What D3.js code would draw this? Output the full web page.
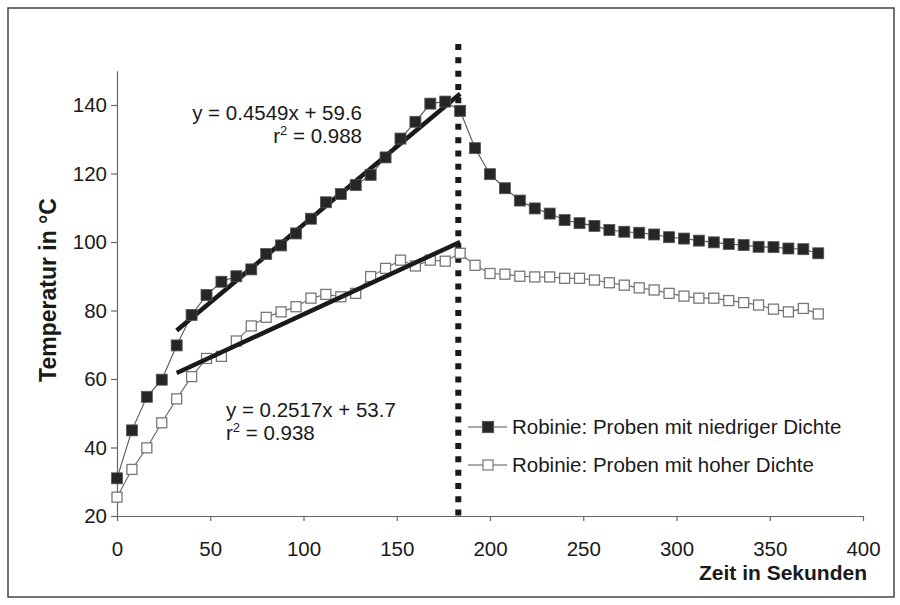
<!DOCTYPE html>
<html>
<head>
<meta charset="utf-8">
<script src="https://cdn.jsdelivr.net/npm/d3@7"></script>
<style>
  body { margin: 0; background: #fff; }
  svg { font-family: "Liberation Sans", Arial, Helvetica, sans-serif; }
</style>
</head>
<body>
<svg width="900" height="605"></svg>
<script>
// time points in seconds (one reading every 8 s)
const times = [0, 8, 16, 24, 32, 40, 48, 56, 64, 72, 80, 88, 96, 104, 112, 120,
  128, 136, 144, 152, 160, 168, 176, 184, 192, 200, 208, 216, 224, 232, 240, 248,
  256, 264, 272, 280, 288, 296, 304, 312, 320, 328, 336, 344, 352, 360, 368, 376];

// low density samples (filled squares)
const lowDensity = [31.0, 45.0, 54.8, 59.8, 69.8, 78.7, 84.5, 88.4, 90.0, 92.0, 96.5, 99.0,
  102.5, 106.8, 111.6, 114.0, 116.6, 119.6, 124.7, 130.2, 135.1, 140.4, 141.0, 138.3,
  127.4, 119.8, 115.7, 112.1, 109.8, 108.3, 106.4, 105.5, 104.7, 103.5, 103.0, 102.7,
  102.2, 101.4, 101.0, 100.4, 99.9, 99.4, 99.1, 98.6, 98.5, 98.1, 97.9, 96.7];

// high density samples (open squares)
const highDensity = [25.5, 33.6, 39.9, 47.2, 54.2, 60.7, 66.0, 66.6, 71.1, 75.5, 78.0, 79.6,
  81.1, 83.6, 84.7, 84.0, 85.0, 89.9, 92.3, 94.7, 93.0, 94.7, 94.4, 96.7,
  93.2, 90.8, 90.6, 90.0, 89.8, 89.8, 89.4, 89.4, 88.9, 88.1, 87.4, 86.6,
  86.0, 85.0, 84.2, 83.6, 83.6, 82.9, 82.3, 81.6, 80.4, 79.6, 80.6, 79.0];

// linear trends fitted over the heating phase
const trendLow = { slope: 0.4549, intercept: 59.6, from: 32, to: 184 };
const trendHigh = { slope: 0.2517, intercept: 53.7, from: 32, to: 184 };

const legendLabels = ["Robinie: Proben mit niedriger Dichte", "Robinie: Proben mit hoher Dichte"];
const xTicks = [0, 50, 100, 150, 200, 250, 300, 350, 400];
const yTicks = [20, 40, 60, 80, 100, 120, 140];
const markerTime = 183;

const svg = d3.select("svg");

// outer frame
svg.append("rect")
  .attr("x", 8).attr("y", 8)
  .attr("width", 886).attr("height", 589)
  .attr("fill", "none")
  .attr("stroke", "#444")
  .attr("stroke-width", 1.5);

const x = d3.scaleLinear().domain([0, 400]).range([117, 863]);
const y = d3.scaleLinear().domain([20, 150]).range([516, 70.75]);

// x-axis
const xAxis = svg.append("g")
  .attr("transform", `translate(0, ${y(20)})`)
  .call(d3.axisBottom(x).tickValues(xTicks).tickSize(5).tickPadding(20).tickSizeOuter(0));

// y-axis
const yAxis = svg.append("g")
  .attr("transform", `translate(${x(0)}, 0)`)
  .call(d3.axisLeft(y).tickValues(yTicks).tickSize(6).tickPadding(4).tickSizeOuter(0));

[xAxis, yAxis].forEach(a => {
  a.select(".domain").attr("stroke", "#666").attr("stroke-width", 1.2);
  a.selectAll(".tick line").attr("stroke", "#666").attr("stroke-width", 1.2);
  a.selectAll(".tick text")
    .attr("fill", "#1a1a1a")
    .attr("font-size", "20.5px")
    .attr("font-family", "Liberation Sans, Arial, sans-serif");
});

// axis titles
svg.append("text")
  .attr("transform", "rotate(-90)")
  .attr("x", -290)
  .attr("y", 56)
  .attr("text-anchor", "middle")
  .attr("font-size", "23px")
  .attr("font-weight", "bold")
  .attr("fill", "#1a1a1a")
  .text("Temperatur in °C");

svg.append("text")
  .attr("x", 867)
  .attr("y", 580)
  .attr("text-anchor", "end")
  .attr("font-size", "21px")
  .attr("font-weight", "bold")
  .attr("fill", "#1a1a1a")
  .text("Zeit in Sekunden");

// dotted marker line at end of heating
svg.append("line")
  .attr("x1", x(markerTime)).attr("x2", x(markerTime))
  .attr("y1", y(157.8)).attr("y2", y(18.5))
  .attr("stroke", "#1a1a1a")
  .attr("stroke-width", 6)
  .attr("stroke-dasharray", "6,7.3");

const lowData = times.map((t, i) => ({ t, v: lowDensity[i] }));
const highData = times.map((t, i) => ({ t, v: highDensity[i] }));

const line = d3.line()
  .x(d => x(d.t))
  .y(d => y(d.v));

// series connecting lines
svg.append("path")
  .attr("d", line(highData))
  .attr("fill", "none")
  .attr("stroke", "#666")
  .attr("stroke-width", 1.1);

svg.append("path")
  .attr("d", line(lowData))
  .attr("fill", "none")
  .attr("stroke", "#555")
  .attr("stroke-width", 1.1);

// open squares
const openSize = 10;
svg.selectAll(".open-pt")
  .data(highData).enter().append("rect")
  .attr("class", "open-pt")
  .attr("x", d => x(d.t) - openSize / 2)
  .attr("y", d => y(d.v) - openSize / 2)
  .attr("width", openSize)
  .attr("height", openSize)
  .attr("fill", "#fff")
  .attr("stroke", "#777")
  .attr("stroke-width", 1.3);

// trend lines
const trendLine = tr => [tr.from, tr.to].map(t => ({ t, v: tr.slope * t + tr.intercept }));

[trendLow, trendHigh].forEach(tr => {
  svg.append("path")
    .attr("d", line(trendLine(tr)))
    .attr("fill", "none")
    .attr("stroke", "#1a1a1a")
    .attr("stroke-width", 4.5);
});

// filled squares
const fillSize = 11;
svg.selectAll(".fill-pt")
  .data(lowData).enter().append("rect")
  .attr("class", "fill-pt")
  .attr("x", d => x(d.t) - fillSize / 2)
  .attr("y", d => y(d.v) - fillSize / 2)
  .attr("width", fillSize)
  .attr("height", fillSize)
  .attr("fill", "#262626")
  .attr("stroke", "#555")
  .attr("stroke-width", 0.8);

// regression labels
function eqLabel(xPos, yPos, anchor, eq, r2) {
  const g = svg.append("g").attr("font-size", "20.5px").attr("fill", "#1a1a1a");
  g.append("text")
    .attr("x", xPos).attr("y", yPos)
    .attr("text-anchor", anchor)
    .text(eq);
  const t = g.append("text")
    .attr("x", xPos).attr("y", yPos + 23)
    .attr("text-anchor", anchor);
  t.append("tspan").text("r");
  t.append("tspan").attr("font-size", "13px").attr("dy", -8).text("2");
  t.append("tspan").attr("dy", 8).text(" = " + r2);
}

eqLabel(362, 120, "end", "y = 0.4549x + 59.6", "0.988");
eqLabel(226, 417, "start", "y = 0.2517x + 53.7", "0.938");

// legend
const legend = svg.append("g");
const legendRows = [
  { label: legendLabels[0], y: 427, fill: "#262626", stroke: "#555", size: 11 },
  { label: legendLabels[1], y: 465, fill: "#fff", stroke: "#777", size: 10 }
];

legendRows.forEach(r => {
  legend.append("line")
    .attr("x1", 468).attr("x2", 507)
    .attr("y1", r.y).attr("y2", r.y)
    .attr("stroke", "#555")
    .attr("stroke-width", 1.1);
  legend.append("rect")
    .attr("x", 488 - r.size / 2).attr("y", r.y - r.size / 2)
    .attr("width", r.size).attr("height", r.size)
    .attr("fill", r.fill)
    .attr("stroke", r.stroke)
    .attr("stroke-width", 1.2);
  legend.append("text")
    .attr("x", 512).attr("y", r.y + 7)
    .attr("font-size", "20.5px")
    .attr("fill", "#1a1a1a")
    .text(r.label);
});
</script>
</body>
</html>
